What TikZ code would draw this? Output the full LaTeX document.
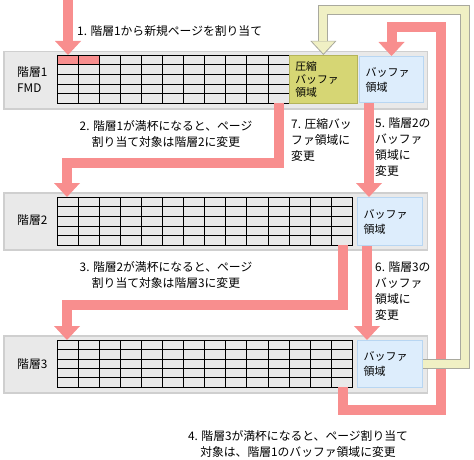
\documentclass[tikz,border=0pt]{standalone}
\usepackage{fontspec}
\setmainfont{Noto Sans CJK JP}
\usepackage{tikz}
\usetikzlibrary{arrows.meta,positioning,calc}
\definecolor{flowpink}{HTML}{F88E8E}
\definecolor{tierfill}{HTML}{E9E9E9}
\definecolor{tierline}{HTML}{CFCFCF}
\definecolor{compfill}{HTML}{D6D674}
\definecolor{compline}{HTML}{B4B45A}
\definecolor{buffill}{HTML}{DDEDFC}
\definecolor{bufline}{HTML}{B8D6F2}
\definecolor{backfill}{HTML}{F0F0C4}
\definecolor{backline}{HTML}{A9A99E}
\tikzset{
  tier/.style={draw=tierline,fill=tierfill,line width=1.5pt,minimum width=423.5pt,
    minimum height=57pt,anchor=north west,inner sep=0pt},
  pagegrid/.style={minimum height=48pt,anchor=north west,inner sep=0pt},
  gridline/.style={draw=black,line width=0.9pt},
  comparea/.style={draw=compline,fill=compfill,line width=0.8pt,anchor=north west,
    minimum height=48pt,text width=56pt,inner xsep=6pt,inner ysep=0pt,align=left,
    font=\fontsize{10.8}{12.8}\selectfont},
  bufarea/.style={draw=bufline,fill=buffill,line width=1pt,anchor=north west,
    text width=52pt,inner xsep=6pt,inner ysep=0pt,align=left,
    font=\fontsize{11}{15}\selectfont},
  memo/.style={inner sep=0pt,align=left,font=\fontsize{11.8}{16}\selectfont},
  flow/.style={-{Triangle[length=14pt,width=26pt,line width=0pt]},line width=10pt,draw=flowpink},
  backout/.style={-{Triangle[length=14pt,width=26pt,line width=0pt]},line width=10pt,draw=backline},
  backin/.style={-{Triangle[length=12pt,width=22.5pt,line width=0pt]},line width=8pt,
    draw=backfill,shorten >=1.5pt}
}
\newcommand{\cellgrid}[2]{%
  \foreach \c in {0,...,#2}
    \draw[gridline] ($(#1.north west)+(\c*21.1,0)$) -- ($(#1.south west)+(\c*21.1,0)$);
  \foreach \r in {0,...,5}
    \draw[gridline] ($(#1.north west)!\r/5!(#1.south west)$) -- ($(#1.north east)!\r/5!(#1.south east)$);
}

\begin{document}
\begin{tikzpicture}[x=1pt,y=-1pt]
 \useasboundingbox (0,0) rectangle (474,460);

 % tiers
 \node[tier] (tier1) at (3,51) {};
 \node[tier] (tier2) at (3,192) {};
 \node[tier] (tier3) at (3,335) {};
 \node[memo,anchor=west] (name1) at (17,80) {階層1\\FMD};
 \node[memo,anchor=west] (name2) at (17,220) {階層2};
 \node[memo,anchor=west] (name3) at (17,364) {階層3};

 \node[pagegrid,minimum width=232.1pt] (grid1) at (57,55) {};
 \node[pagegrid,minimum width=295.4pt] (grid2) at (57,197) {};
 \node[pagegrid,minimum width=295.4pt,minimum height=47pt] (grid3) at (57,340) {};
 \fill[flowpink] (grid1.north west) rectangle ++(42.2,9.6);
 \cellgrid{grid1}{11}
 \cellgrid{grid2}{14}
 \cellgrid{grid3}{14}

 \node[comparea] (comp1) at (289,55) {圧縮\\バッファ\\領域};
 \node[bufarea,minimum height=46pt] (buf1) at (359,56) {バッファ\\領域};
 \node[bufarea,minimum height=48pt,text width=53pt] (buf2) at (357,197) {バッファ\\領域};
 \node[bufarea,minimum height=47pt,text width=53pt] (buf3) at (357,340) {バッファ\\領域};

 % flows
 \coordinate (entry) at (68,0);
 \coordinate (turnfour) at (441,27);
 \coordinate (turnback) at (465,10);
 \draw[flow] (entry) -- (entry |- grid1.north);
 \draw[flow] ($(grid1.south east)+(-11,0)$) -- ++(0,60) -| ($(grid2.north west)+(10,0)$);
 \draw[flow] ($(grid2.south east)+(-10,0)$) -- ++(0,60) -| ($(grid3.north west)+(10,0)$);
 \draw[flow] ($(grid3.south east)+(-10,0)$) -- ++(0,23) -| (turnfour) -| (buf1.north);
 \draw[flow] ($(buf1.south west)+(10,0)$) coordinate (s5) -- (s5 |- buf2.north);
 \draw[flow] ($(buf2.south west)+(10,0)$) coordinate (s6) -- (s6 |- buf3.north);
 \draw[backout] (buf3.east) -| (turnback) -| (comp1.north);
 \draw[backin] (buf3.east) -| (turnback) -| (comp1.north);

 % steps
 \node[memo,anchor=west] (step1) at (77,31) {1. 階層1から新規ページを割り当て};
 \node[memo,align=center] (step2) at (166,134) {2. 階層1が満杯になると、ページ\\割り当て対象は階層2に変更};
 \node[memo,align=center] (step3) at (166,275) {3. 階層2が満杯になると、ページ\\割り当て対象は階層3に変更};
 \node[memo,align=center] (step4) at (298,444) {4. 階層3が満杯になると、ページ割り当て\\対象は、階層1のバッファ領域に変更};
 \node[memo,anchor=north west] (step5) at (375,118) {5. 階層2の\\バッファ\\領域に\\変更};
 \node[memo,anchor=north west] (step6) at (375,262) {6. 階層3の\\バッファ\\領域に\\変更};
 \node[memo,anchor=north west] (step7) at (291,118) {7. 圧縮バッ\\ファ領域に\\変更};
\end{tikzpicture}
\end{document}
